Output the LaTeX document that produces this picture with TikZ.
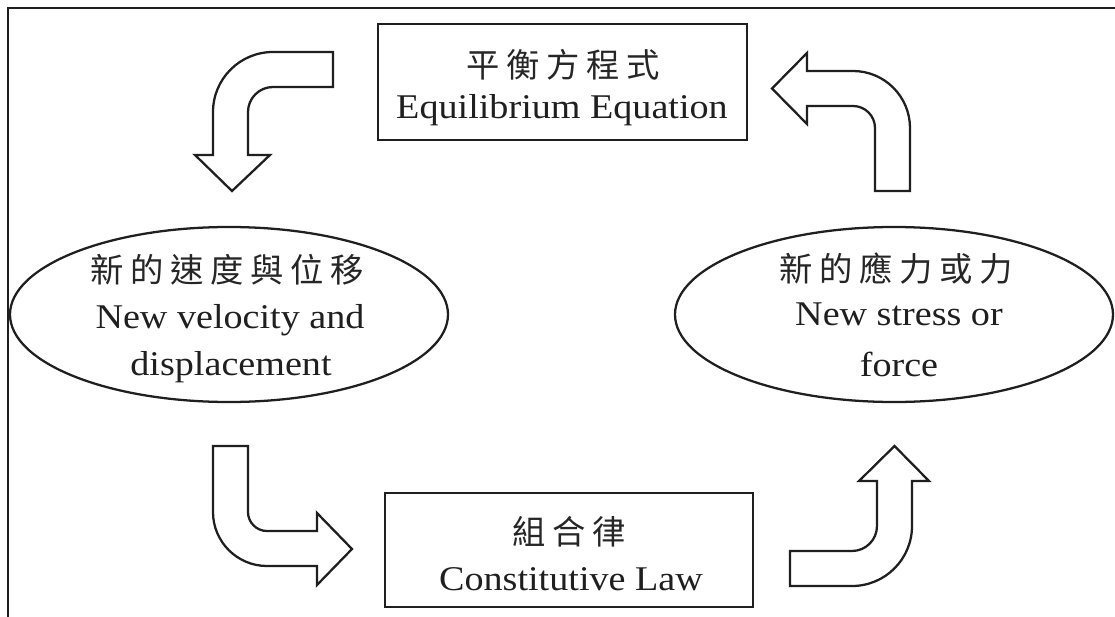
\documentclass[tikz,border=0pt]{standalone}
\usepackage{fontspec}
\setmainfont[FakeStretch=1.1]{Liberation Serif}
\newfontfamily\zhfont{Noto Sans CJK TC}
\usetikzlibrary{shapes.geometric}
\newcommand\zhgap{\hspace{5pt}}
\begin{document}
\begin{tikzpicture}[x=0.75pt,y=-0.75pt,
  outline/.style={draw=black!88, line width=1.7pt},
  boxnode/.style={outline, rectangle, inner sep=0pt},
  ovalnode/.style={outline, ellipse, inner sep=0pt},
  entext/.style={font=\fontsize{26}{30}\selectfont, anchor=base, inner sep=0pt, text=black!88},
  zhtext/.style={font=\zhfont\fontsize{25}{29}\selectfont, anchor=base, inner sep=0pt, text=black!85},
  blockarrow/.style={outline, fill=white, line join=miter}]
\useasboundingbox (0,0) rectangle (1115,617);
\draw[outline] (8,617) -- (8,8) -- (1115,8);

% shapes
\node[boxnode, minimum width=276.75pt, minimum height=87pt] (eq) at (562.5,82) {};
\node[boxnode, minimum width=276pt, minimum height=85.5pt] (cl) at (569,550) {};
\node[ovalnode, minimum width=328.5pt, minimum height=131.25pt] (vd) at (229,314.5) {};
\node[ovalnode, minimum width=328.5pt, minimum height=131.25pt] (sf) at (894,314.5) {};

% texts
\node[zhtext] (eqzh) at (563,78) {平\zhgap 衡\zhgap 方\zhgap 程\zhgap 式};
\node[entext] (eqen) at (562,118) {Equilibrium Equation};
\node[zhtext] (clzh) at (569,544) {組\zhgap 合\zhgap 律};
\node[entext] (clen) at (571,590) {Constitutive Law};
\node[zhtext] (vdzh) at (227,282) {新\zhgap 的\zhgap 速\zhgap 度\zhgap 與\zhgap 位\zhgap 移};
\node[entext] (vden1) at (230,328) {New velocity and};
\node[entext] (vden2) at (231,375) {displacement};
\node[zhtext] (sfzh) at (896,281) {新\zhgap 的\zhgap 應\zhgap 力\zhgap 或\zhgap 力};
\node[entext] (sfen1) at (899,325) {New stress or};
\node[entext] (sfen2) at (899,376) {force};

% block arrows
\draw[blockarrow] (333,52) -- (273,52) arc[start angle=270,end angle=180,radius=60]
  -- (213,155) -- (195,155) -- (232,191) -- (270,155) -- (248,155) -- (248,112)
  arc[start angle=180,end angle=270,radius=25] -- (333,87) -- cycle;
\draw[blockarrow] (875,191) -- (875,128) arc[start angle=0,end angle=-90,radius=22]
  -- (807,106) -- (807,124) -- (772,88.5) -- (807,53) -- (807,71) -- (853,71)
  arc[start angle=-90,end angle=0,radius=57] -- (910,191) -- cycle;
\draw[blockarrow] (213,446) -- (213,512) arc[start angle=180,end angle=90,radius=54]
  -- (317,566) -- (317,585) -- (352,549) -- (317,513) -- (317,531) -- (267,531)
  arc[start angle=90,end angle=180,radius=19] -- (248,446) -- cycle;
\draw[blockarrow] (790,551) -- (852,551) arc[start angle=90,end angle=0,radius=25]
  -- (877,481) -- (859,481) -- (894.5,446) -- (929,481) -- (912,481) -- (912,526)
  arc[start angle=0,end angle=90,radius=60] -- (790,586) -- cycle;
\end{tikzpicture}
\end{document}
